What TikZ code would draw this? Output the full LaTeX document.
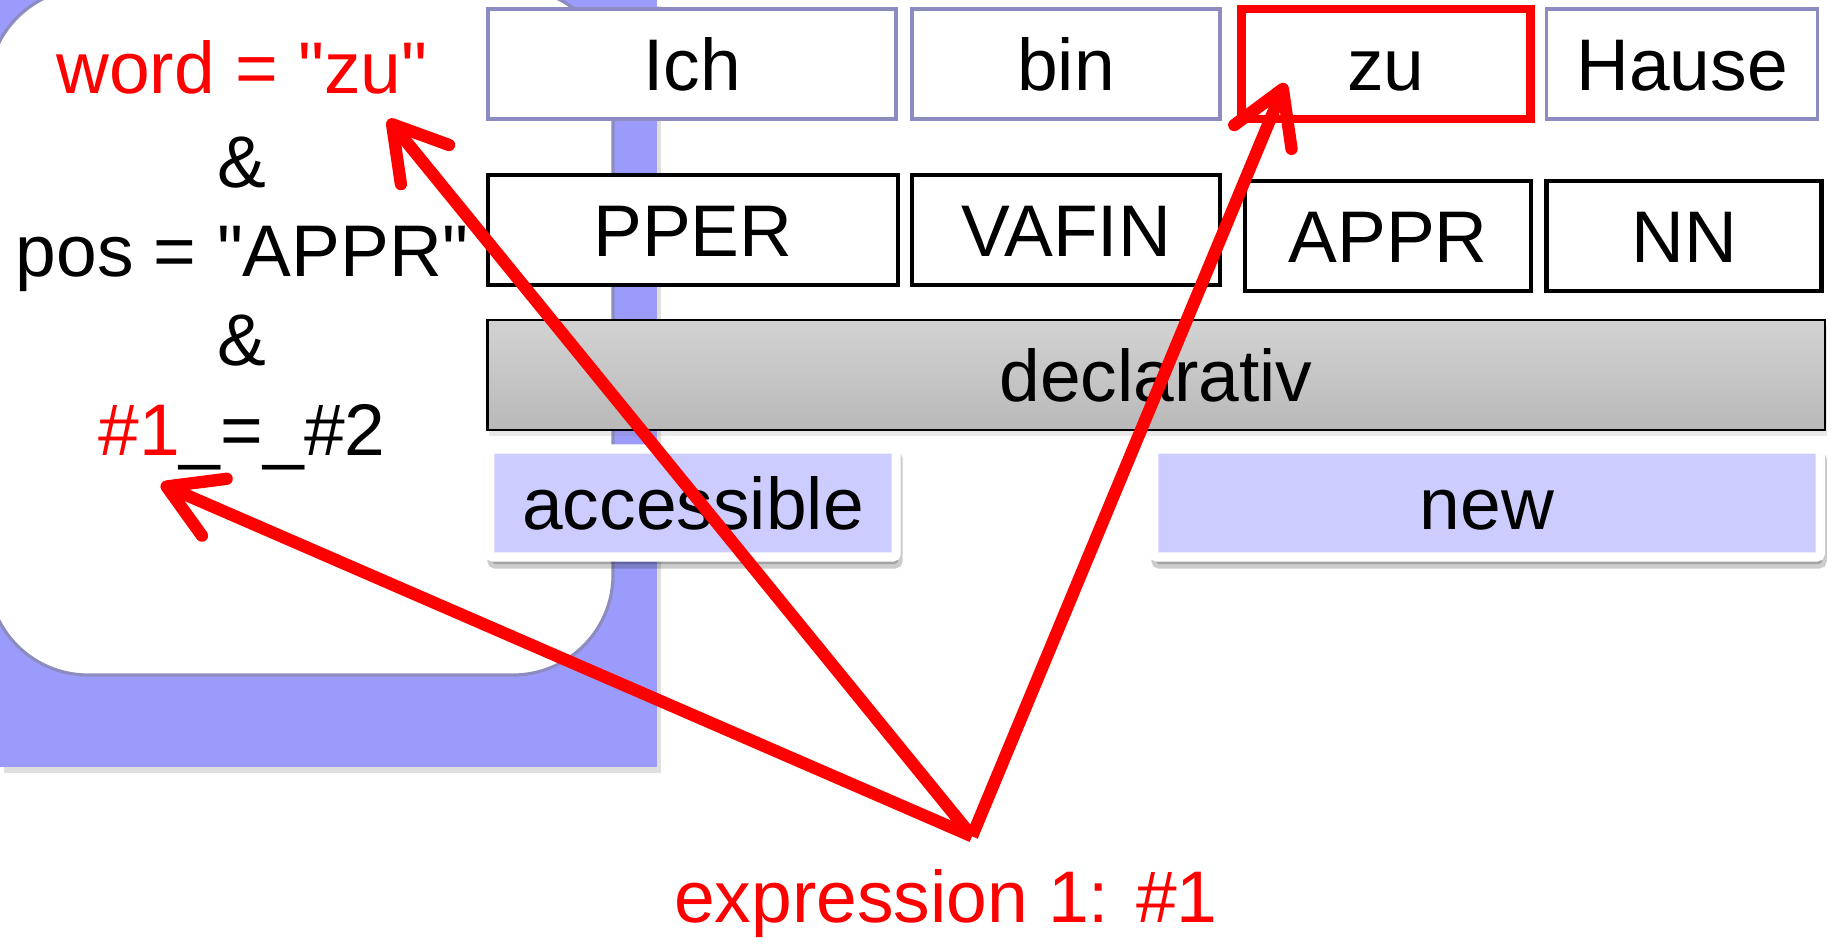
\documentclass[tikz,border=0pt]{standalone}
\usepackage{fontspec}
\setmainfont{Liberation Sans}[Ligatures=TeXOff]
\usepackage{xcolor}
\usetikzlibrary{arrows.meta,shadows}

\definecolor{panelblue}{RGB}{155,155,252}
\definecolor{framegray}{RGB}{140,140,192}
\definecolor{infofill}{RGB}{204,204,255}

\begin{document}
\begin{tikzpicture}[
  x=0.01cm, y=-0.01cm,
  font=\fontsize{20.8}{25}\selectfont,
  cell/.style={minimum height=1.1cm, text height=14.9pt, text depth=0pt, inner sep=0pt},
  wordbox/.style={cell, draw=framegray, line width=1pt, fill=white},
  tagbox/.style={cell, draw=black, line width=1.3pt, fill=white},
  actbox/.style={cell, draw=black, line width=0.8pt, top color=gray!35, bottom color=gray!55,
    drop shadow={opacity=0.18, shadow xshift=0.2mm, shadow yshift=-0.6mm}},
  infobox/.style={cell, minimum height=1.08cm, draw=white, line width=2.6pt, fill=infofill, rounded corners=1pt,
    general shadow={draw=black, fill=black, line width=2.6pt, opacity=0.2, shadow xshift=0.2mm, shadow yshift=-0.7mm}},
  cond/.style={anchor=base, inner sep=0pt},
  ptr/.style={-{Straight Barb[length=5.2mm, width=6.2mm, round]}, draw=red, line width=3.5pt}
]
\useasboundingbox (0,0) rectangle (1831,944);

% query panel
\fill[panelblue, drop shadow={opacity=0.25, shadow xshift=0.4mm, shadow yshift=-0.6mm}] (0,0) rectangle (657,767);
\draw[framegray, line width=0.9pt, fill=white, rounded corners=1cm] (-12,-12) rectangle (613,675);

\node[cond, text=red] at (242,93) (cond1) {word = "zu"};
\node[cond] at (242,187) (and1) {\&};
\node[cond] at (242,276) (cond2) {pos = "APPR"};
\node[cond] at (242,365) (and2) {\&};
\node[cond] at (242,455) (cond3) {\textcolor{red}{\#1}\_=\_\#2};

% tokens
\node[wordbox, minimum width=4.08cm] at (692,64) (ich) {Ich};
\node[wordbox, minimum width=3.08cm] at (1066,64) (bin) {bin};
\node[wordbox, draw=red, line width=2.4pt, minimum width=2.89cm] at (1386,64) (zu) {zu};
\node[wordbox, minimum width=2.71cm] at (1682,64) (hause) {Hause};

% pos tags
\node[tagbox, minimum width=4.10cm] at (693,230) (pper) {PPER};
\node[tagbox, minimum width=3.08cm] at (1066,230) (vafin) {VAFIN};
\node[tagbox, minimum width=2.86cm] at (1388,236) (appr) {APPR};
\node[tagbox, minimum width=2.75cm] at (1684,236) (nn) {NN};

% sentence type and information status
\node[actbox, minimum width=13.37cm] at (1156,375) (decl) {declarativ};
\node[infobox, minimum width=4.06cm] at (693,503) (acc) {accessible};
\node[infobox, minimum width=6.66cm] at (1487,503) (new) {new};

% expression pointers
\node[cond, text=red] at (946,922) (expr) {expression 1: \#1};
\coordinate (src) at ([xshift=2.6mm,yshift=3.2mm]expr.north);

\draw[ptr] (src) -- ([xshift=-4mm,yshift=-2.5mm]cond1.south east);
\draw[ptr] (src) -- ([xshift=6.3mm,yshift=-2.9mm]cond3.base west);
\draw[ptr] (src) -- ([xshift=4.8mm,yshift=4mm]zu.south west);
\end{tikzpicture}
\end{document}
